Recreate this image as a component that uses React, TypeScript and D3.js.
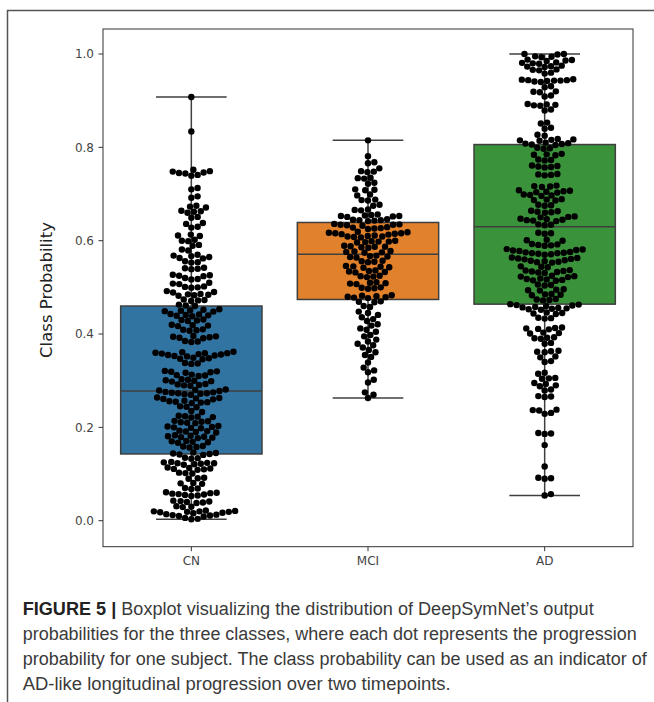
import React from 'react';
import * as d3 from 'd3';

const categories = ['CN', 'MCI', 'AD'];
const boxColors = ['#3274a1', '#e1812c', '#3a923a'];

// box stats: [whiskerLow, q1, median, q3, whiskerHigh]
const cnBox = [0.003, 0.143, 0.278, 0.46, 0.908];
const mciBox = [0.263, 0.474, 0.571, 0.639, 0.815];
const adBox = [0.054, 0.464, 0.63, 0.806, 1.0];

const yTicks = [0, 0.2, 0.4, 0.6, 0.8, 1.0];

// per-subject probabilities (estimated from the swarm)
const cnValues = [
  0.908, 0.834,
  0.752, 0.748, 0.746, 0.745, 0.744, 0.749, 0.741, 0.739,
  0.713, 0.71, 0.695, 0.692, 0.675, 0.673, 0.671, 0.663, 0.662, 0.66, 0.664,
  0.651, 0.649, 0.638, 0.636, 0.63, 0.628, 0.613, 0.611, 0.61, 0.602, 0.6, 0.599,
  0.591, 0.589, 0.581, 0.579, 0.57, 0.568, 0.567, 0.565, 0.563, 0.562,
  0.556, 0.554, 0.553, 0.542, 0.54, 0.539, 0.541, 0.527, 0.525, 0.524, 0.526,
  0.52, 0.518, 0.517, 0.51, 0.508, 0.507, 0.502, 0.5, 0.499, 0.501,
  0.492, 0.49, 0.489, 0.485, 0.484, 0.483, 0.482, 0.486,
  0.474, 0.472, 0.471, 0.473, 0.463, 0.461, 0.46,
  0.452, 0.451, 0.45, 0.449, 0.453, 0.448, 0.442, 0.441, 0.44, 0.439, 0.443, 0.438,
  0.431, 0.43, 0.429, 0.428, 0.42, 0.419, 0.418, 0.417, 0.41, 0.409, 0.408, 0.407,
  0.395, 0.394, 0.393, 0.392, 0.396, 0.391, 0.385, 0.384, 0.383,
  0.36, 0.359, 0.358, 0.357, 0.361, 0.362, 0.356, 0.359, 0.355, 0.354, 0.353, 0.352,
  0.349, 0.348, 0.347, 0.346, 0.338, 0.337, 0.336,
  0.32, 0.319, 0.318, 0.317, 0.321, 0.313, 0.312, 0.311, 0.31,
  0.302, 0.301, 0.3, 0.299, 0.303, 0.298, 0.292, 0.291, 0.29, 0.289, 0.293,
  0.281, 0.28, 0.279, 0.278, 0.274, 0.273, 0.272, 0.271, 0.275, 0.276, 0.27, 0.273,
  0.263, 0.262, 0.261, 0.26, 0.264, 0.256, 0.255, 0.254, 0.253, 0.257, 0.252,
  0.245, 0.244, 0.243, 0.235, 0.233,
  0.224, 0.223, 0.222, 0.221, 0.225, 0.213, 0.212, 0.211, 0.21, 0.214, 0.209,
  0.202, 0.201, 0.2, 0.199, 0.203, 0.198, 0.192, 0.191, 0.19, 0.189, 0.193,
  0.181, 0.18, 0.179, 0.178, 0.182, 0.183, 0.177, 0.17, 0.169, 0.168, 0.167, 0.171,
  0.16, 0.159, 0.158, 0.157, 0.145, 0.144, 0.143, 0.142, 0.146, 0.141,
  0.135, 0.134, 0.133, 0.124, 0.123, 0.122, 0.121, 0.125, 0.126, 0.12, 0.123,
  0.113, 0.112, 0.111, 0.11, 0.114, 0.109, 0.103, 0.102, 0.101,
  0.092, 0.091, 0.09, 0.081, 0.08, 0.079, 0.07, 0.069, 0.068,
  0.06, 0.059, 0.058, 0.057, 0.061, 0.056, 0.055, 0.054, 0.053,
  0.042, 0.041, 0.04, 0.039, 0.043, 0.038, 0.031, 0.03, 0.029,
  0.02, 0.019, 0.018, 0.017, 0.021, 0.022, 0.016, 0.019, 0.02,
  0.013, 0.012, 0.011, 0.01, 0.014, 0.009, 0.006, 0.004, 0.003,
];

const mciValues = [
  0.815, 0.781, 0.768, 0.766, 0.755, 0.749, 0.748, 0.747,
  0.735, 0.734, 0.733, 0.724, 0.722, 0.71, 0.709, 0.708, 0.699, 0.697,
  0.688, 0.687, 0.686, 0.677, 0.675, 0.667, 0.666, 0.665,
  0.654, 0.653, 0.652, 0.655, 0.651, 0.656, 0.653,
  0.645, 0.644, 0.643, 0.646, 0.642, 0.644, 0.635, 0.634, 0.633, 0.636, 0.632, 0.634,
  0.628, 0.627, 0.626, 0.629, 0.625,
  0.617, 0.616, 0.615, 0.618, 0.614, 0.619, 0.613, 0.616,
  0.61, 0.609, 0.608, 0.611, 0.607, 0.609, 0.599, 0.598, 0.597, 0.6, 0.596, 0.598,
  0.588, 0.587, 0.586, 0.589, 0.585, 0.587, 0.577, 0.576, 0.575, 0.578, 0.574,
  0.567, 0.566, 0.565, 0.568, 0.564, 0.556, 0.555, 0.554, 0.557,
  0.545, 0.544, 0.543, 0.546, 0.542, 0.535, 0.534, 0.533, 0.536, 0.532,
  0.524, 0.523, 0.522, 0.525, 0.51, 0.509, 0.508, 0.511, 0.507,
  0.499, 0.498, 0.497, 0.5,
  0.481, 0.48, 0.479, 0.482, 0.478, 0.483, 0.477, 0.47, 0.469, 0.468, 0.46, 0.458,
  0.448, 0.445, 0.441, 0.436, 0.432, 0.428, 0.421, 0.418, 0.412, 0.409, 0.405,
  0.398, 0.395, 0.388, 0.384, 0.379, 0.376, 0.371, 0.366, 0.361, 0.355, 0.351,
  0.339, 0.328, 0.322, 0.318, 0.302, 0.296, 0.275, 0.27, 0.263,
];

const adValues = [
  1.0, 1.0, 0.999, 0.995, 0.994, 0.993, 0.987, 0.986, 0.985, 0.988,
  0.981, 0.98, 0.979, 0.982, 0.974, 0.973, 0.972, 0.975, 0.967, 0.966, 0.965, 0.96, 0.958,
  0.944, 0.943, 0.942, 0.945, 0.941, 0.946, 0.94, 0.944, 0.943,
  0.931, 0.929, 0.92, 0.919, 0.918, 0.911, 0.909, 0.892, 0.891, 0.89, 0.893, 0.889,
  0.881, 0.879, 0.853, 0.851, 0.842, 0.84, 0.827, 0.825,
  0.817, 0.816, 0.815, 0.818, 0.814, 0.808, 0.807, 0.806, 0.809, 0.805, 0.81,
  0.799, 0.798, 0.797, 0.785, 0.784, 0.783, 0.786, 0.774, 0.773, 0.772,
  0.76, 0.759, 0.758, 0.761, 0.757, 0.742, 0.741, 0.74, 0.743,
  0.717, 0.716, 0.715, 0.718, 0.706, 0.705, 0.704, 0.707, 0.703, 0.708,
  0.699, 0.698, 0.697, 0.696, 0.688, 0.687, 0.686, 0.689, 0.677, 0.676, 0.675,
  0.663, 0.662, 0.661, 0.664, 0.66, 0.652, 0.651, 0.65,
  0.645, 0.644, 0.643, 0.646, 0.642, 0.647, 0.635, 0.634, 0.633,
  0.617, 0.616, 0.615, 0.602, 0.601, 0.6, 0.592, 0.591, 0.59, 0.593, 0.589,
  0.581, 0.58, 0.579, 0.582, 0.578, 0.574, 0.573, 0.572, 0.575, 0.571, 0.576, 0.57, 0.573,
  0.563, 0.562, 0.561, 0.564, 0.56, 0.556, 0.555, 0.554, 0.557, 0.553, 0.558,
  0.545, 0.544, 0.543, 0.535, 0.534, 0.533, 0.536, 0.532, 0.537, 0.531,
  0.524, 0.523, 0.522, 0.525, 0.517, 0.516, 0.515, 0.518, 0.514, 0.519,
  0.506, 0.505, 0.504, 0.495, 0.494, 0.493, 0.496, 0.485, 0.484, 0.483, 0.486,
  0.474, 0.473, 0.472, 0.475, 0.463, 0.462, 0.461, 0.464, 0.46,
  0.456, 0.455, 0.454, 0.457, 0.453, 0.458, 0.452, 0.445, 0.444, 0.443, 0.446,
  0.435, 0.434, 0.433, 0.413, 0.412, 0.411, 0.414, 0.41, 0.403, 0.402, 0.401,
  0.392, 0.391, 0.39, 0.393, 0.381, 0.379, 0.363, 0.362, 0.361, 0.364,
  0.352, 0.35, 0.342, 0.34, 0.317, 0.315, 0.306, 0.305, 0.304,
  0.295, 0.293, 0.29, 0.288, 0.281, 0.279, 0.267, 0.266, 0.265,
  0.238, 0.237, 0.236, 0.231, 0.229, 0.188, 0.187, 0.186, 0.162, 0.116,
  0.092, 0.091, 0.09, 0.057, 0.054,
];

const captionLines = [
  'Boxplot visualizing the distribution of DeepSymNet\u2019s output',
  'probabilities for the three classes, where each dot represents the progression',
  'probability for one subject. The class probability can be used as an indicator of',
  'AD-like longitudinal progression over two timepoints.',
];

const W = 654;
const H = 702;
const plot = { left: 103, right: 633, top: 29, bottom: 546.7 };
const DOT_R = 3.2;

type Dot = { v: number; x: number; y: number };

// simple beeswarm: place each point (low to high) at the free spot nearest the centre
function swarm(values: number[], y: (v: number) => number, d: number): Dot[] {
  const pts: Dot[] = values.map(v => ({ v, x: 0, y: y(v) })).sort((a, b) => a.v - b.v);
  const placed: Dot[] = [];
  for (const p of pts) {
    const near = placed.filter(q => Math.abs(q.y - p.y) < d);
    const cands = [0];
    near.forEach(q => {
      const dx = Math.sqrt(d * d - (q.y - p.y) ** 2);
      cands.push(q.x + dx, q.x - dx);
    });
    cands.sort((a, b) => Math.abs(a) - Math.abs(b));
    for (const c of cands) {
      if (near.every(q => (q.x - c) ** 2 + (q.y - p.y) ** 2 >= d * d - 0.01)) {
        p.x = c;
        break;
      }
    }
    placed.push(p);
  }
  return pts;
}

export default function App() {
  const x = d3.scaleBand<string>().domain(categories).range([plot.left, plot.right]);
  const y = d3.scaleLinear().domain([0, 1]).range([520.7, 54]);
  const boxes = [cnBox, mciBox, adBox];
  const series = [cnValues, mciValues, adValues];
  const bw = x.bandwidth() * 0.8;
  const edge = '#3f3f3f';

  return (
    <svg width={W} height={H} style={{ position: 'absolute', left: 0, top: 0 }}>
      <rect width={W} height={H} fill="#fff" />
      {/* figure frame */}
      <path d={`M7.5,${H}V10.5H${W}`} fill="none" stroke="#555" strokeWidth={1.5} />

      {/* boxes */}
      {categories.map((c, i) => {
        const [lo, q1, med, q3, hi] = boxes[i];
        const cx = x(c)! + x.bandwidth() / 2;
        return (
          <g key={c} stroke={edge} strokeWidth={1.5}>
            <line x1={cx} x2={cx} y1={y(q3)} y2={y(hi)} />
            <line x1={cx} x2={cx} y1={y(q1)} y2={y(lo)} />
            <line x1={cx - bw / 4} x2={cx + bw / 4} y1={y(hi)} y2={y(hi)} />
            <line x1={cx - bw / 4} x2={cx + bw / 4} y1={y(lo)} y2={y(lo)} />
            <rect x={cx - bw / 2} y={y(q3)} width={bw} height={y(q1) - y(q3)} fill={boxColors[i]} />
            <line x1={cx - bw / 2} x2={cx + bw / 2} y1={y(med)} y2={y(med)} />
          </g>
        );
      })}

      {/* swarm dots */}
      {categories.map((c, i) => {
        const cx = x(c)! + x.bandwidth() / 2;
        return (
          <g key={c} fill="#000">
            {swarm(series[i], y, DOT_R * 2).map((p, j) => (
              <circle key={j} cx={cx + p.x} cy={p.y} r={DOT_R} />
            ))}
          </g>
        );
      })}

      {/* axes frame */}
      <rect x={plot.left} y={plot.top} width={plot.right - plot.left} height={plot.bottom - plot.top}
        fill="none" stroke="#333" strokeWidth={1} />

      {/* y axis */}
      {yTicks.map(t => (
        <g key={t} transform={`translate(${plot.left},${y(t)})`}>
          <line x1={-4.5} x2={0} stroke="#333" />
          <text x={-9} dy="0.35em" textAnchor="end" fontFamily="DejaVu Sans" fontSize={12} fill="#444">
            {t.toFixed(1)}
          </text>
        </g>
      ))}
      <text transform={`translate(46,290) rotate(-90)`} textAnchor="middle" dominantBaseline="central"
        fontFamily="DejaVu Sans" fontSize={16.5} fill="#222">
        Class Probability
      </text>

      {/* x axis */}
      {categories.map(c => {
        const cx = x(c)! + x.bandwidth() / 2;
        return (
          <g key={c} transform={`translate(${cx},${plot.bottom})`}>
            <line y1={0} y2={4.5} stroke="#333" />
            <text y={18} textAnchor="middle" fontFamily="DejaVu Sans" fontSize={12} fill="#444">{c}</text>
          </g>
        );
      })}

      {/* caption */}
      <g fontFamily="Liberation Sans, Arial, sans-serif" fontSize={18} fill="#3a3a3a">
        <text x={22.7} y={615} textLength={571} lengthAdjust="spacingAndGlyphs">
          <tspan fontWeight="bold" fill="#222">FIGURE 5 |</tspan> {captionLines[0]}
        </text>
        <text x={22.7} y={640} textLength={614} lengthAdjust="spacingAndGlyphs">{captionLines[1]}</text>
        <text x={22.7} y={665} textLength={624} lengthAdjust="spacingAndGlyphs">{captionLines[2]}</text>
        <text x={22.7} y={690} textLength={428} lengthAdjust="spacingAndGlyphs">{captionLines[3]}</text>
      </g>
    </svg>
  );
}
